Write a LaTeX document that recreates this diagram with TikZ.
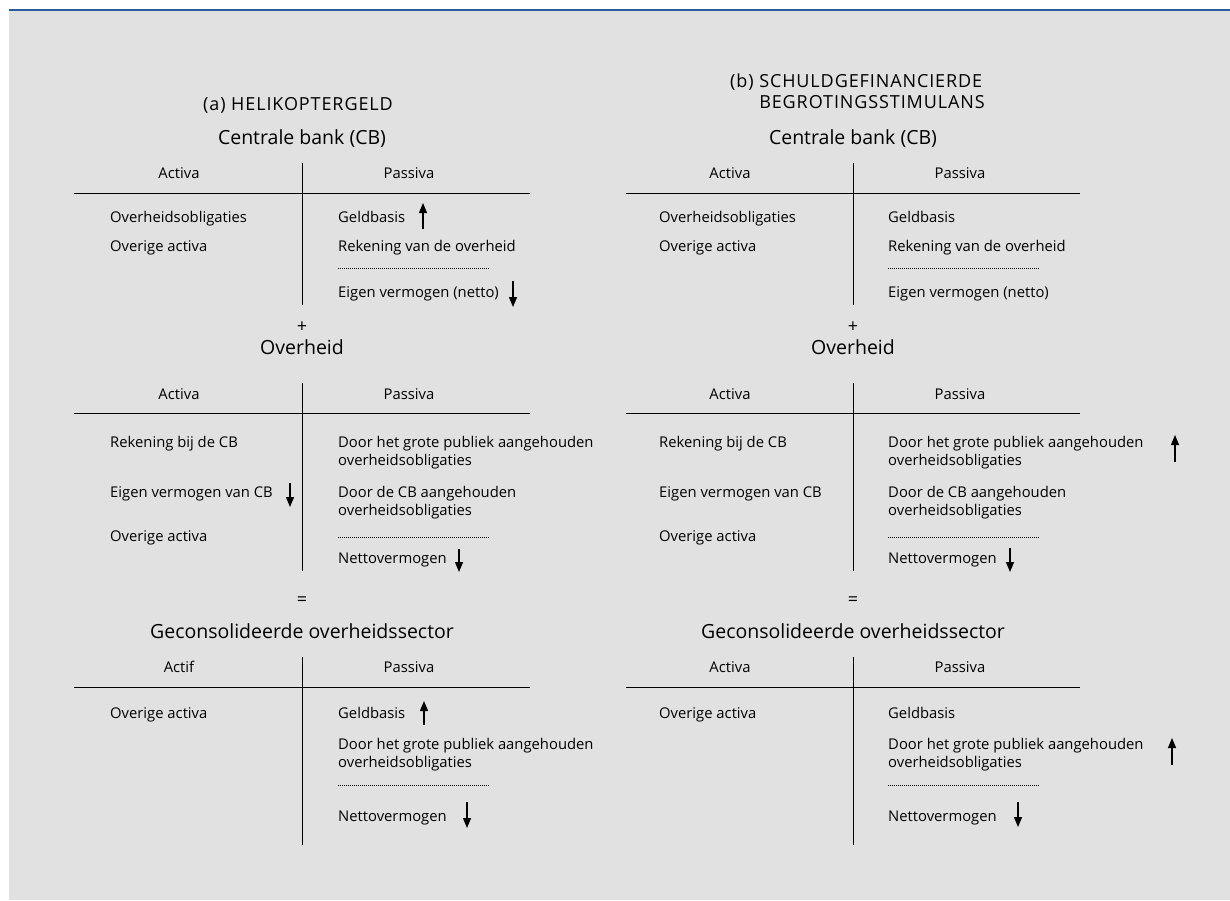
\documentclass[tikz,border=0pt]{standalone}
\usepackage{fontspec}
\setmainfont{Open Sans}
\usetikzlibrary{arrows.meta}
\definecolor{bggray}{HTML}{E1E1E1}
\definecolor{topblue}{HTML}{2A5C9A}
\begin{document}
\begin{tikzpicture}[x=1pt,y=-1pt,
        every node/.style={inner sep=0pt},
        item/.style={anchor=base west, font=\fontsize{14.8}{18}\selectfont, align=left},
        colhead/.style={anchor=base, font=\fontsize{14.8}{18}\selectfont},
        sign/.style={anchor=base, font=\fontsize{18}{20}\selectfont},
        sector/.style={anchor=base, font=\fontsize{19.5}{22}\selectfont},
        panel/.style={anchor=base west, font=\fontsize{18}{21}\selectfont\addfontfeature{LetterSpace=5}, align=left},
        tline/.style={line width=1pt},
        sepline/.style={line width=0.7pt, dash pattern=on 1pt off 1pt},
        arr/.style={line width=1.2pt, -{Triangle[length=10pt,width=8pt]}}
    ]
    % background
    \useasboundingbox (0,0) rectangle (1230,900);
    \fill[white] (0,0) rectangle (1230,900);
    \fill[bggray] (9,11) rectangle (1230,900);
    \draw[topblue, line width=2.5pt] (9,10) -- (1230,10);

    % (a) helikoptergeld
    \node[panel] (atitle) at (203,110) {(a) HELIKOPTERGELD};

    \node[sector] (aCB) at (302,144.5) {Centrale bank (CB)};
    \draw[tline] (302,163) -- (302,305);
    \draw[tline] (74,193) -- (530,193);
    \node[colhead] (aCBact) at (179,178) {Activa};
    \node[colhead] (aCBpas) at (409,178) {Passiva};
    \node[item] (aCBobl) at (110,222) {Overheidsobligaties};
    \node[item] (aCBrest) at (110,251) {Overige activa};
    \node[item] (aCBgeld) at (338,222) {Geldbasis};
    \node[item] (aCBrek) at (338,251) {Rekening van de overheid};
    \draw[sepline] (338,268) -- (489,268);
    \node[item] (aCBeig) at (338,297) {Eigen vermogen (netto)};
    \draw[arr] (423,229) -- (423,203);
    \draw[arr] (513,281) -- (513,307);

    \node[sign] (aplus) at (302,332) {+};

    \node[sector] (aOV) at (302,354) {Overheid};
    \draw[tline] (302,383) -- (302,571);
    \draw[tline] (74,413) -- (530,413);
    \node[colhead] (aOVact) at (179,399) {Activa};
    \node[colhead] (aOVpas) at (409,399) {Passiva};
    \node[item] (aOVrek) at (110,447) {Rekening bij de CB};
    \node[item] (aOVeig) at (110,497) {Eigen vermogen van CB};
    \node[item] (aOVrest) at (110,541) {Overige activa};
    \node[item] (aOVpubl) at (338,465) {Door het grote publiek aangehouden\\overheidsobligaties};
    \node[item] (aOVcb) at (338,515) {Door de CB aangehouden\\overheidsobligaties};
    \draw[sepline] (338,537) -- (489,537);
    \node[item] (aOVnet) at (338,563) {Nettovermogen};
    \draw[arr] (290,483) -- (290,507);
    \draw[arr] (459,549) -- (459,572);

    \node[sign] (aeq) at (302,605) {=};

    \node[sector] (aGS) at (302,638) {Geconsolideerde overheidssector};
    \draw[tline] (302,657) -- (302,845);
    \draw[tline] (74,687) -- (530,687);
    \node[colhead] (aGSact) at (179,672) {Actif};
    \node[colhead] (aGSpas) at (409,672) {Passiva};
    \node[item] (aGSrest) at (110,718) {Overige activa};
    \node[item] (aGSgeld) at (338,718) {Geldbasis};
    \node[item] (aGSpubl) at (338,767) {Door het grote publiek aangehouden\\overheidsobligaties};
    \draw[sepline] (338,785) -- (489,785);
    \node[item] (aGSnet) at (338,821) {Nettovermogen};
    \draw[arr] (424,725) -- (424,701);
    \draw[arr] (467,802) -- (467,828);

    % (b) schuldgefinancierde begrotingsstimulans
    \begin{scope}[xshift=551pt]
    \node[panel] (btitle) at (179,108.5) {(b) SCHULDGEFINANCIERDE\\\phantom{(b) }BEGROTINGSSTIMULANS};

    \node[sector] (bCB) at (302,144.5) {Centrale bank (CB)};
    \draw[tline] (302,163) -- (302,305);
    \draw[tline] (75,193) -- (529,193);
    \node[colhead] (bCBact) at (179,178) {Activa};
    \node[colhead] (bCBpas) at (409,178) {Passiva};
    \node[item] (bCBobl) at (108,222) {Overheidsobligaties};
    \node[item] (bCBrest) at (108,251) {Overige activa};
    \node[item] (bCBgeld) at (337,222) {Geldbasis};
    \node[item] (bCBrek) at (337,251) {Rekening van de overheid};
    \draw[sepline] (337,268) -- (488,268);
    \node[item] (bCBeig) at (337,297) {Eigen vermogen (netto)};

    \node[sign] (bplus) at (302,332) {+};

    \node[sector] (bOV) at (302,354) {Overheid};
    \draw[tline] (302,383) -- (302,571);
    \draw[tline] (75,413) -- (529,413);
    \node[colhead] (bOVact) at (179,399) {Activa};
    \node[colhead] (bOVpas) at (409,399) {Passiva};
    \node[item] (bOVrek) at (108,447) {Rekening bij de CB};
    \node[item] (bOVeig) at (108,497) {Eigen vermogen van CB};
    \node[item] (bOVrest) at (108,541) {Overige activa};
    \node[item] (bOVpubl) at (337,465) {Door het grote publiek aangehouden\\overheidsobligaties};
    \node[item] (bOVcb) at (337,515) {Door de CB aangehouden\\overheidsobligaties};
    \draw[sepline] (337,537) -- (488,537);
    \node[item] (bOVnet) at (337,563) {Nettovermogen};
    \draw[arr] (624,462) -- (624,435);
    \draw[arr] (459,548) -- (459,572);

    \node[sign] (beq) at (302,605) {=};

    \node[sector] (bGS) at (302,638) {Geconsolideerde overheidssector};
    \draw[tline] (302,657) -- (302,845);
    \draw[tline] (75,687) -- (529,687);
    \node[colhead] (bGSact) at (179,672) {Activa};
    \node[colhead] (bGSpas) at (409,672) {Passiva};
    \node[item] (bGSrest) at (108,718) {Overige activa};
    \node[item] (bGSgeld) at (337,718) {Geldbasis};
    \node[item] (bGSpubl) at (337,767) {Door het grote publiek aangehouden\\overheidsobligaties};
    \draw[sepline] (337,785) -- (488,785);
    \node[item] (bGSnet) at (337,821) {Nettovermogen};
    \draw[arr] (621,765) -- (621,738);
    \draw[arr] (467,802) -- (467,827);
    \end{scope}
\end{tikzpicture}
\end{document}
